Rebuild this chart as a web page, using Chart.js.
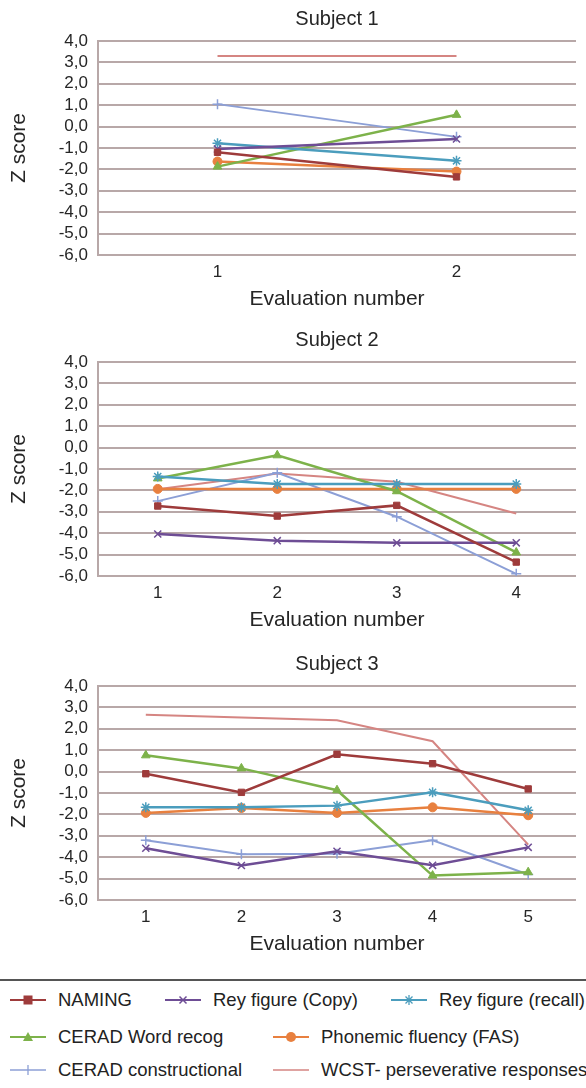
<!DOCTYPE html>
<html>
<head>
<meta charset="utf-8">
<script src="https://cdn.jsdelivr.net/npm/chart.js@4.4.0/dist/chart.umd.min.js"></script>
<style>
  html, body { margin: 0; padding: 0; background: #fff; }
  body { width: 586px; height: 1088px; position: relative; overflow: hidden;
         font-family: 'Liberation Sans', Arial, sans-serif; }
  .cw { position: absolute; left: 0; width: 586px; height: 312px; }
  #sep { position: absolute; left: 0; top: 979px; width: 586px; height: 2px; background: #555; }
  .lg { position: absolute; height: 24px; display: flex; align-items: center;
        font-size: 18.5px; color: #222; white-space: nowrap; }
  .lg svg { margin-right: 12px; flex: none; }
</style>
</head>
<body>
<div class="cw" style="top:0px"><canvas id="c1" width="586" height="312"></canvas></div>
<div class="cw" style="top:321px"><canvas id="c2" width="586" height="312"></canvas></div>
<div class="cw" style="top:645px"><canvas id="c3" width="586" height="312"></canvas></div>
<div id="sep"></div>
<div id="legend"></div>
<script>
// ---- data ----
const seriesNames = ['NAMING', 'Rey figure (Copy)', 'Rey figure (recall)', 'CERAD Word recog',
  'Phonemic fluency (FAS)', 'CERAD constructional', 'WCST- perseverative responses'];
const chartTitles = ['Subject 1', 'Subject 2', 'Subject 3'];
const yTitle = 'Z score';
const xTitle = 'Evaluation number';
const yMin = -6, yMax = 4;

const s1Labels = ['1', '2'];
const s1Naming      = [-1.2, -2.35];
const s1ReyCopy     = [-1.05, -0.58];
const s1ReyRecall   = [-0.78, -1.6];
const s1CeradWord   = [-1.87, 0.55];
const s1Fas         = [-1.63, -2.1];
const s1CeradConstr = [1.05, -0.48];
const s1Wcst        = [3.3, 3.3];

const s2Labels = ['1', '2', '3', '4'];
const s2Naming      = [-2.73, -3.2, -2.7, -5.35];
const s2ReyCopy     = [-4.04, -4.35, -4.45, -4.45];
const s2ReyRecall   = [-1.35, -1.7, -1.7, -1.7];
const s2CeradWord   = [-1.44, -0.36, -2.04, -4.9];
const s2Fas         = [-1.93, -1.93, -1.93, -1.93];
const s2CeradConstr = [-2.5, -1.18, -3.23, -5.9];
const s2Wcst        = [-1.95, -1.21, -1.6, -3.08];

const s3Labels = ['1', '2', '3', '4', '5'];
const s3Naming      = [-0.1, -0.97, 0.81, 0.37, -0.81];
const s3ReyCopy     = [-3.58, -4.39, -3.72, -4.38, -3.54];
const s3ReyRecall   = [-1.67, -1.67, -1.59, -0.97, -1.81];
const s3CeradWord   = [0.76, 0.15, -0.87, -4.86, -4.7];
const s3Fas         = [-1.93, -1.7, -1.93, -1.67, -2.04];
const s3CeradConstr = [-3.21, -3.86, -3.84, -3.21, -4.81];
const s3Wcst        = [2.66, 2.53, 2.4, 1.42, -3.41];

// ---- styles ----
const styles = [
  { color: '#9E3B3B', pointStyle: 'rect',     radius: 4.5, width: 2.5, pbw: 1 },
  { color: '#6E4D95', pointStyle: 'crossRot', radius: 5,   width: 2.5, pbw: 1.5 },
  { color: '#4B9DBD', pointStyle: 'star',     radius: 5,   width: 2.5, pbw: 1.5 },
  { color: '#7DB24A', pointStyle: 'triangle', radius: 5,   width: 2.5, pbw: 1 },
  { color: '#E8803F', pointStyle: 'circle',   radius: 4.5, width: 2.5, pbw: 1 },
  { color: '#8C9FD6', pointStyle: 'cross',    radius: 5,   width: 2,   pbw: 1.5 },
  { color: '#D58582', pointStyle: false,      radius: 0,   width: 2,   pbw: 0 }
];
const gridColor = '#B8A8A8';
const textColor = '#262626';

Chart.defaults.font.family = "'Liberation Sans', Arial, sans-serif";
Chart.defaults.color = textColor;

const fmt = v => v.toFixed(1).replace('.', ',');

function makeChart(id, title, labels, series) {
  const datasets = series.map((data, i) => ({
    label: seriesNames[i],
    data: data,
    borderColor: styles[i].color,
    backgroundColor: styles[i].color,
    pointBackgroundColor: styles[i].color,
    pointBorderColor: styles[i].color,
    pointStyle: styles[i].pointStyle,
    pointRadius: styles[i].radius,
    pointBorderWidth: styles[i].pbw,
    borderWidth: styles[i].width,
    tension: 0,
    fill: false
  }));
  return new Chart(document.getElementById(id), {
    type: 'line',
    data: { labels: labels, datasets: datasets },
    options: {
      responsive: false,
      animation: false,
      devicePixelRatio: 1,
      layout: { padding: { left: 0, right: 10, top: 0, bottom: 0 } },
      plugins: {
        legend: { display: false },
        tooltip: { enabled: false },
        title: {
          display: true, text: title, fullSize: false,
          font: { size: 20, weight: 'normal' }, color: textColor,
          padding: { top: 7, bottom: 10 }
        }
      },
      scales: {
        x: {
          type: 'category',
          offset: true,
          grid: { display: false, drawTicks: false },
          border: { display: false },
          ticks: { font: { size: 17 }, color: textColor, padding: 7 },
          title: { display: true, text: xTitle, font: { size: 21 }, color: textColor,
                   padding: { top: 0, bottom: 0 } },
          afterFit: s => { s.height = 57; }
        },
        y: {
          min: yMin, max: yMax,
          grid: { color: gridColor, lineWidth: 2, drawTicks: false },
          border: { display: true, color: gridColor, width: 2 },
          ticks: { stepSize: 1, autoSkip: false, font: { size: 17 }, color: textColor, padding: 10,
                   callback: v => fmt(v) },
          title: { display: true, text: yTitle, font: { size: 21 }, color: textColor,
                   padding: { top: 7, bottom: 0 } },
          afterFit: s => { s.width = 98; }
        }
      }
    }
  });
}

makeChart('c1', chartTitles[0], s1Labels,
  [s1Naming, s1ReyCopy, s1ReyRecall, s1CeradWord, s1Fas, s1CeradConstr, s1Wcst]);
makeChart('c2', chartTitles[1], s2Labels,
  [s2Naming, s2ReyCopy, s2ReyRecall, s2CeradWord, s2Fas, s2CeradConstr, s2Wcst]);
makeChart('c3', chartTitles[2], s3Labels,
  [s3Naming, s3ReyCopy, s3ReyRecall, s3CeradWord, s3Fas, s3CeradConstr, s3Wcst]);

// ---- legend (HTML) ----
const legendPos = [
  { x: 10,  y: 1000 }, { x: 165, y: 1000 }, { x: 391, y: 1000 },
  { x: 10,  y: 1037 }, { x: 273, y: 1037 },
  { x: 10,  y: 1070 }, { x: 273, y: 1070 }
];
function markerSvg(i) {
  const c = styles[i].color;
  const lw = styles[i].width - 0.5;
  let m = '';
  switch (styles[i].pointStyle) {
    case 'rect': m = `<rect x="13.5" y="7.5" width="9" height="9" fill="${c}"/>`; break;
    case 'crossRot': m = `<path d="M14.5 8.5 L21.5 15.5 M21.5 8.5 L14.5 15.5" stroke="${c}" stroke-width="1.5"/>`; break;
    case 'star': m = `<path d="M18 7 V17 M13 12 H23 M14.5 8.5 L21.5 15.5 M21.5 8.5 L14.5 15.5" stroke="${c}" stroke-width="1.3"/>`; break;
    case 'triangle': m = `<path d="M18 7 L23 16 L13 16 Z" fill="${c}"/>`; break;
    case 'circle': m = `<circle cx="18" cy="12" r="5" fill="${c}"/>`; break;
    case 'cross': m = `<path d="M18 7 V17" stroke="${c}" stroke-width="1.3"/>`; break;
  }
  return `<svg width="36" height="24" viewBox="0 0 36 24"><line x1="0" y1="12" x2="36" y2="12" stroke="${c}" stroke-width="${lw}"/>${m}</svg>`;
}
const lg = document.getElementById('legend');
seriesNames.forEach((name, i) => {
  const d = document.createElement('div');
  d.className = 'lg';
  d.style.left = legendPos[i].x + 'px';
  d.style.top = (legendPos[i].y - 12) + 'px';
  d.innerHTML = markerSvg(i) + '<span>' + name + '</span>';
  lg.appendChild(d);
});
</script>
</body>
</html>
